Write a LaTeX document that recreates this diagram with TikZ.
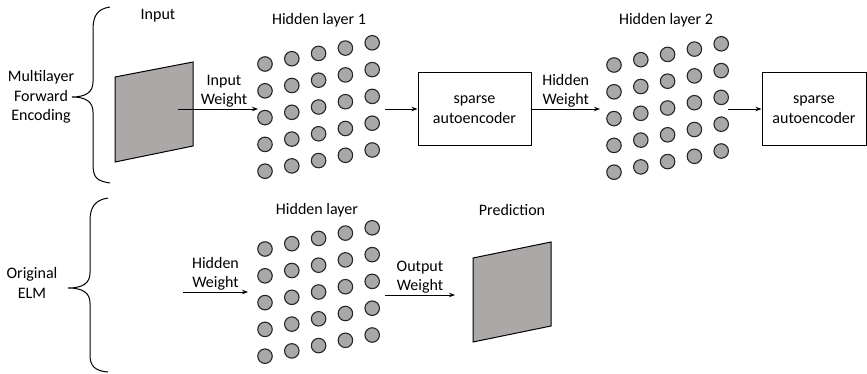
\documentclass[tikz,border=0pt]{standalone}
\usepackage{fontspec}
\setmainfont{Carlito}
\usetikzlibrary{arrows.meta,positioning}

\definecolor{neurongray}{RGB}{168,168,168}
\definecolor{slabgray}{RGB}{172,168,167}

\tikzset{
  neuron/.style={circle,draw=black!85,fill=neurongray,line width=1.1pt,minimum size=14.5pt,inner sep=0pt},
  aebox/.style={draw,line width=1pt,minimum height=73pt,align=center,inner sep=4pt},
  lbl/.style={align=center,inner sep=1pt},
  conn/.style={-{Stealth[length=6pt,width=4.5pt]},line width=0.9pt},
  slab/.style={draw,line width=1pt,fill=slabgray},
  curly/.style={line width=1pt},
}

\begin{document}
\begin{tikzpicture}[x=1pt,y=-1pt,font=\fontsize{16}{19.5}\selectfont]
  \useasboundingbox (0,0) rectangle (867,374);
  % braces and group names
  \draw[curly] (110,7) .. controls (97,9) and (93,16) .. (93,30) -- (93,82)
    .. controls (93,92) and (86,97) .. (72,97)
    .. controls (86,97) and (93,102) .. (93,112) -- (93,164)
    .. controls (93,178) and (97,181) .. (110,183);
  \draw[curly] (108,198) .. controls (95,200) and (90,207) .. (90,221) -- (90,273)
    .. controls (90,283) and (83,288) .. (68,288)
    .. controls (83,288) and (90,293) .. (90,303) -- (90,355)
    .. controls (90,366) and (95,371) .. (108,372);
  \node[lbl] (mfe) at (41,97) {Multilayer\\Forward\\Encoding};
  \node[lbl] (elm) at (32,283) {Original\\ELM};
  % titles
  \node (intitle) at (158,16) {Input};
  \node (h1title) at (319,20) {Hidden layer 1};
  \node (h2title) at (666,20) {Hidden layer 2};
  \node (h3title) at (317,210) {Hidden layer};
  \node (predtitle) at (512,210) {Prediction};
  % input and prediction
  \filldraw[slab] (115,77) -- (193,62) -- (193,146) -- (115,162) -- cycle;
  \filldraw[slab] (473,258) -- (551,242) -- (551,326) -- (473,342) -- cycle;
  % neurons
  \foreach \c in {0,...,4}
    \foreach \r in {0,...,4} {
      \node[neuron] (ha-\c-\r) at (265+26.8*\c, 64-5.3*\c+26.8*\r) {};
      \node[neuron] (hb-\c-\r) at (614+26.8*\c, 65-5.3*\c+26.8*\r) {};
      \node[neuron] (hc-\c-\r) at (265+26.8*\c, 249-5.3*\c+26.8*\r) {};
    }
  % autoencoders
  \node[aebox,minimum width=113pt] (ae1) at (474.5,109.5) {sparse\\autoencoder};
  \node[aebox,minimum width=104pt] (ae2) at (814,109.5) {sparse\\autoencoder};
  % connectors
  \coordinate (inout) at (178,109);
  \coordinate (hain) at (258,109);
  \coordinate (haout) at (385,109);
  \coordinate (hbin) at (600,109);
  \coordinate (hbout) at (728,109);
  \coordinate (elmin) at (183,292);
  \coordinate (hcin) at (248,292);
  \coordinate (hcout) at (385,295);
  \coordinate (predin) at (455,295);
  \draw[conn] (inout) -- node[lbl,above,xshift=6pt]{Input\\Weight} (hain);
  \draw[conn] (haout) -- (ae1.west |- haout);
  \draw[conn] (ae1.east |- hbin) -- node[lbl,above]{Hidden\\Weight} (hbin);
  \draw[conn] (hbout) -- (ae2.west |- hbout);
  \draw[conn] (elmin) -- node[lbl,above]{Hidden\\Weight} (hcin);
  \draw[conn] (hcout) -- node[lbl,above]{Output\\Weight} (predin);
\end{tikzpicture}
\end{document}
